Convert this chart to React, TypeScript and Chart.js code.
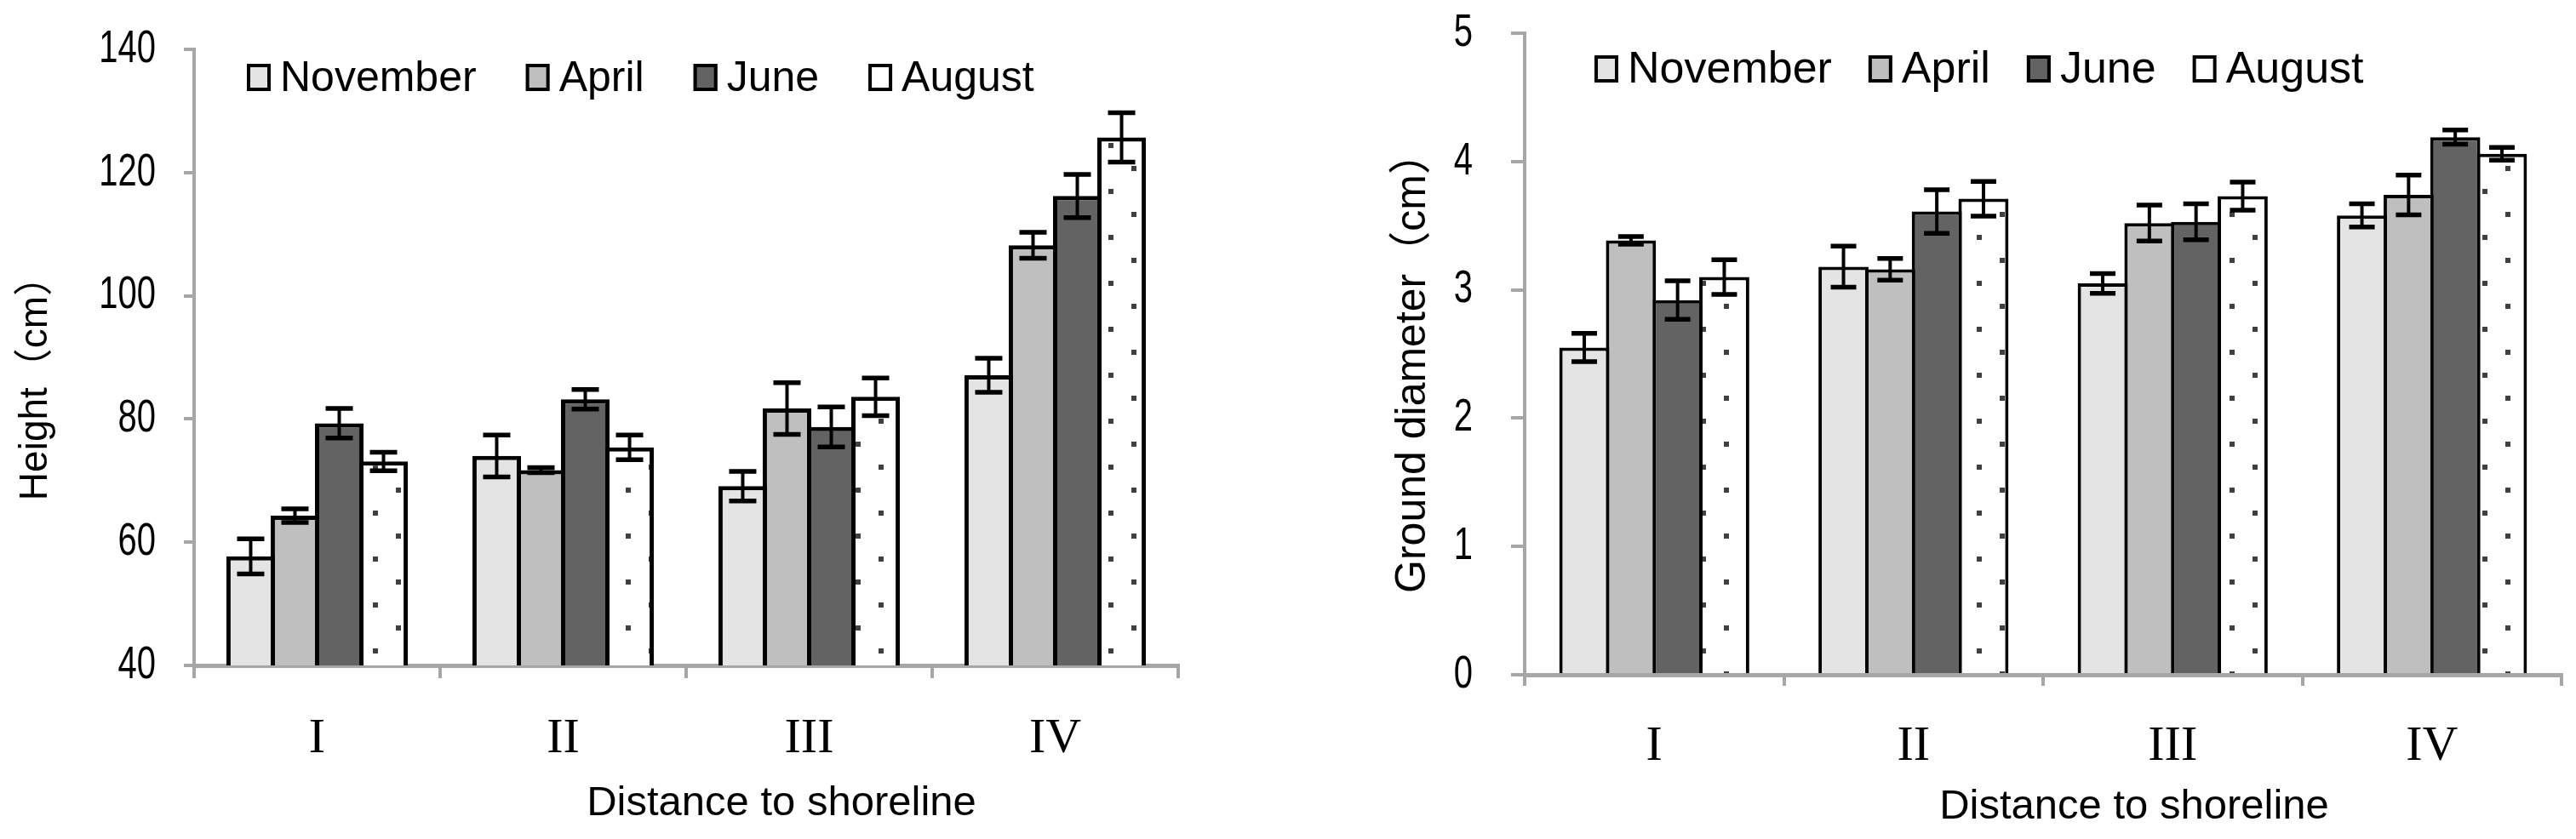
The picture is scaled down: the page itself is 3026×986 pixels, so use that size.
import React, { useEffect, useRef } from 'react';
import { Chart, registerables } from 'chart.js';

Chart.register(...registerables);

// ---------------- data ----------------
const categories = ['I', 'II', 'III', 'IV'];
const seriesNames = ['November', 'April', 'June', 'August'];

const heightNovember = [57.7, 74.0, 69.1, 87.1];
const heightApril = [64.3, 71.7, 81.7, 108.2];
const heightJune = [79.3, 83.2, 78.7, 116.2];
const heightAugust = [73.1, 75.4, 83.6, 125.7];
const heightNovemberErr = [2.85, 3.4, 2.4, 2.75];
const heightAprilErr = [1.1, 0.4, 4.2, 2.1];
const heightJuneErr = [2.4, 1.6, 3.25, 3.5];
const heightAugustErr = [1.5, 2.0, 3.05, 4.0];

const diamNovember = [2.55, 3.18, 3.05, 3.58];
const diamApril = [3.385, 3.16, 3.52, 3.74];
const diamJune = [2.92, 3.61, 3.53, 4.19];
const diamAugust = [3.1, 3.71, 3.73, 4.06];
const diamNovemberErr = [0.11, 0.16, 0.077, 0.09];
const diamAprilErr = [0.03, 0.085, 0.14, 0.155];
const diamJuneErr = [0.15, 0.17, 0.14, 0.055];
const diamAugustErr = [0.135, 0.135, 0.11, 0.05];

const heightTicks = { min: 40, max: 140, step: 20 };
const diamTicks = { min: 0, max: 5, step: 1 };

const yTitleHeight = 'Height（cm）';
const yTitleDiam = 'Ground diameter（cm）';
const xTitleText = 'Distance to shoreline';

// ---------------- styles ----------------
const SANS = "'Liberation Sans', Arial, sans-serif";
const TITLE_FONT = "'Liberation Sans', 'Noto Sans CJK SC', sans-serif";
const SERIF = "'Liberation Serif', 'Times New Roman', serif";
const AXIS_GRAY = '#a6a6a6';
const FILLS = ['#e4e4e4', '#bfbfbf', '#636363', 'PATTERN'];

type Layout = {
  left: number; width: number; yWidth: number; padTop: number; padRight: number; xHeight: number;
  yTitleX: number; yTitleDY: number; yTitleSize: number; yTickLen: number; yTickPad: number; xTickLen: number; xTickPad: number;
  legendDX: number; legendDY: number; legendFont: number; legendGap: number;
  xTitleDX: number; xTitleDY: number; capW: number; border: number; barPct: number;
};

function makePattern(ctx: CanvasRenderingContext2D) {
  const c = document.createElement('canvas');
  c.width = 54; c.height = 54;
  const g = c.getContext('2d')!;
  g.fillStyle = '#ffffff';
  g.fillRect(0, 0, 54, 54);
  g.fillStyle = '#404040';
  g.fillRect(6, 6, 6, 6);
  g.fillRect(33, 33, 6, 6);
  return ctx.createPattern(c, 'repeat')!;
}

function ChartPanel(props: {
  values: number[][]; errors: number[][]; ticks: { min: number; max: number; step: number };
  yTitle: string; layout: Layout;
}) {
  const ref = useRef<HTMLCanvasElement>(null);
  useEffect(() => {
    const canvas = ref.current!;
    const ctx0 = canvas.getContext('2d')!;
    const pattern = makePattern(ctx0);
    const L = props.layout;
    const fills = FILLS.map((f) => (f === 'PATTERN' ? pattern : f));

    const datasets = seriesNames.map((name, i) => ({
      label: name,
      data: props.values[i],
      errors: props.errors[i],
      backgroundColor: fills[i],
      borderColor: '#000000',
      borderWidth: L.border,
      categoryPercentage: 0.72,
      barPercentage: L.barPct,
    }));

    const errorBars = {
      id: 'errorBars',
      afterDatasetsDraw(chart: any) {
        const ctx = chart.ctx;
        const ys = chart.scales.y;
        chart.data.datasets.forEach((ds: any, i: number) => {
          const meta = chart.getDatasetMeta(i);
          meta.data.forEach((bar: any, j: number) => {
            const v = ds.data[j];
            const e = ds.errors[j];
            const yt = ys.getPixelForValue(v + e);
            const yb = ys.getPixelForValue(v - e);
            ctx.save();
            ctx.strokeStyle = '#000';
            ctx.lineCap = 'butt';
            ctx.lineWidth = 4;
            ctx.beginPath();
            ctx.moveTo(bar.x, yt);
            ctx.lineTo(bar.x, yb);
            ctx.stroke();
            ctx.lineWidth = 5.5;
            ctx.beginPath();
            ctx.moveTo(bar.x - L.capW / 2, yt);
            ctx.lineTo(bar.x + L.capW / 2, yt);
            ctx.moveTo(bar.x - L.capW / 2, yb);
            ctx.lineTo(bar.x + L.capW / 2, yb);
            ctx.stroke();
            ctx.restore();
          });
        });
      },
    };

    const legendAndTitles = {
      id: 'legendAndTitles',
      afterDraw(chart: any) {
        const ctx = chart.ctx;
        const a = chart.chartArea;
        ctx.save();
        // y tick labels (condensed digits, from the library's own tick list)
        const ys = chart.scales.y;
        ctx.font = `54px ${SANS}`;
        ctx.fillStyle = '#000';
        ctx.textAlign = 'right';
        ctx.textBaseline = 'middle';
        ys.ticks.forEach((t: any, i: number) => {
          const py = ys.getPixelForTick(i);
          const rx = a.left - L.yTickLen - L.yTickPad;
          ctx.save();
          ctx.translate(rx, py);
          ctx.scale(0.74, 1);
          ctx.fillText(String(t.label), 0, 0);
          ctx.restore();
        });
        // legend
        ctx.font = `${L.legendFont}px ${SANS}`;
        ctx.textAlign = 'left';
        let x = a.left + L.legendDX;
        const yc = a.top + L.legendDY;
        const bw = 28, bh = 32;
        chart.data.datasets.forEach((ds: any) => {
          ctx.fillStyle = ds.backgroundColor;
          ctx.fillRect(x, yc - bh / 2, bw, bh);
          ctx.lineWidth = 4;
          ctx.strokeStyle = '#000';
          ctx.strokeRect(x + 2, yc - bh / 2 + 2, bw - 4, bh - 4);
          x += bw + 11;
          ctx.fillStyle = '#000';
          ctx.fillText(ds.label, x, yc + 2);
          x += ctx.measureText(ds.label).width + L.legendGap;
        });
        // x title
        ctx.textAlign = 'center';
        ctx.font = `49px ${SANS}`;
        ctx.fillText(xTitleText, (a.left + a.right) / 2 + L.xTitleDX, a.bottom + L.xTitleDY);
        // y title
        ctx.font = `${L.yTitleSize}px ${TITLE_FONT}`;
        ctx.translate(L.yTitleX, (a.top + a.bottom) / 2 + L.yTitleDY);
        ctx.rotate(-Math.PI / 2);
        ctx.fillText(props.yTitle, 0, 0);
        ctx.restore();
      },
    };

    const chart = new Chart(canvas, {
      type: 'bar',
      data: { labels: categories, datasets: datasets as any },
      options: {
        animation: false,
        responsive: false,
        devicePixelRatio: 1,
        layout: { padding: { left: 0, top: L.padTop, right: L.padRight, bottom: 0 } },
        plugins: { legend: { display: false }, tooltip: { enabled: false } },
        scales: {
          x: {
            type: 'category',
            afterFit: (s: any) => {
              s.height = L.xHeight;
              s.paddingLeft = 0; s.paddingRight = 0; s.paddingTop = 0; s.paddingBottom = 0;
            },
            grid: {
              offset: true,
              drawOnChartArea: false,
              drawTicks: true,
              tickLength: L.xTickLen,
              color: AXIS_GRAY,
              lineWidth: 4,
            },
            border: { display: true, color: AXIS_GRAY, width: 5 },
            ticks: {
              color: '#000',
              padding: L.xTickPad,
              font: { family: SERIF, size: 58 },
              maxRotation: 0,
            },
          },
          y: {
            min: props.ticks.min,
            max: props.ticks.max,
            afterFit: (s: any) => {
              s.width = L.yWidth;
              s.paddingTop = 0; s.paddingBottom = 0; s.paddingLeft = 0; s.paddingRight = 0;
            },
            grid: {
              drawOnChartArea: false,
              drawTicks: true,
              tickLength: L.yTickLen,
              color: AXIS_GRAY,
              lineWidth: 4,
            },
            border: { display: true, color: AXIS_GRAY, width: 4 },
            ticks: {
              display: false,
              stepSize: props.ticks.step,
            },
          },
        },
      },
      plugins: [errorBars, legendAndTitles],
    });
    return () => chart.destroy();
  }, []);
  const L = props.layout;
  return (
    <canvas
      ref={ref}
      width={L.width}
      height={986}
      style={{ position: 'absolute', left: L.left, top: 0, width: L.width, height: 986 }}
    />
  );
}

const leftLayout: Layout = {
  left: 0, width: 1560, yWidth: 228, padTop: 58, padRight: 176, xHeight: 204,
  yTitleX: 42, yTitleDY: 25, yTitleSize: 46, yTickLen: 12, yTickPad: 33, xTickLen: 15, xTickPad: 37,
  legendDX: 62, legendDY: 33, legendFont: 50, legendGap: 58,
  xTitleDX: 112, xTitleDY: 162, capW: 32, border: 5, barPct: 1.097,
};
const rightLayout: Layout = {
  left: 1560, width: 1466, yWidth: 231, padTop: 39, padRight: 17, xHeight: 193,
  yTitleX: 100, yTitleDY: 10, yTitleSize: 50, yTickLen: 16, yTickPad: 45, xTickLen: 13, xTickPad: 37,
  legendDX: 82, legendDY: 42, legendFont: 52, legendGap: 43,
  xTitleDX: 107, xTitleDY: 155, capW: 30, border: 4, barPct: 1.073,
};

export default function App() {
  return (
    <div style={{ position: 'fixed', left: 0, top: 0, width: 3026, height: 986, background: '#fff' }}>
      <ChartPanel
        values={[heightNovember, heightApril, heightJune, heightAugust]}
        errors={[heightNovemberErr, heightAprilErr, heightJuneErr, heightAugustErr]}
        ticks={heightTicks}
        yTitle={yTitleHeight}
        layout={leftLayout}
      />
      <ChartPanel
        values={[diamNovember, diamApril, diamJune, diamAugust]}
        errors={[diamNovemberErr, diamAprilErr, diamJuneErr, diamAugustErr]}
        ticks={diamTicks}
        yTitle={yTitleDiam}
        layout={rightLayout}
      />
    </div>
  );
}
